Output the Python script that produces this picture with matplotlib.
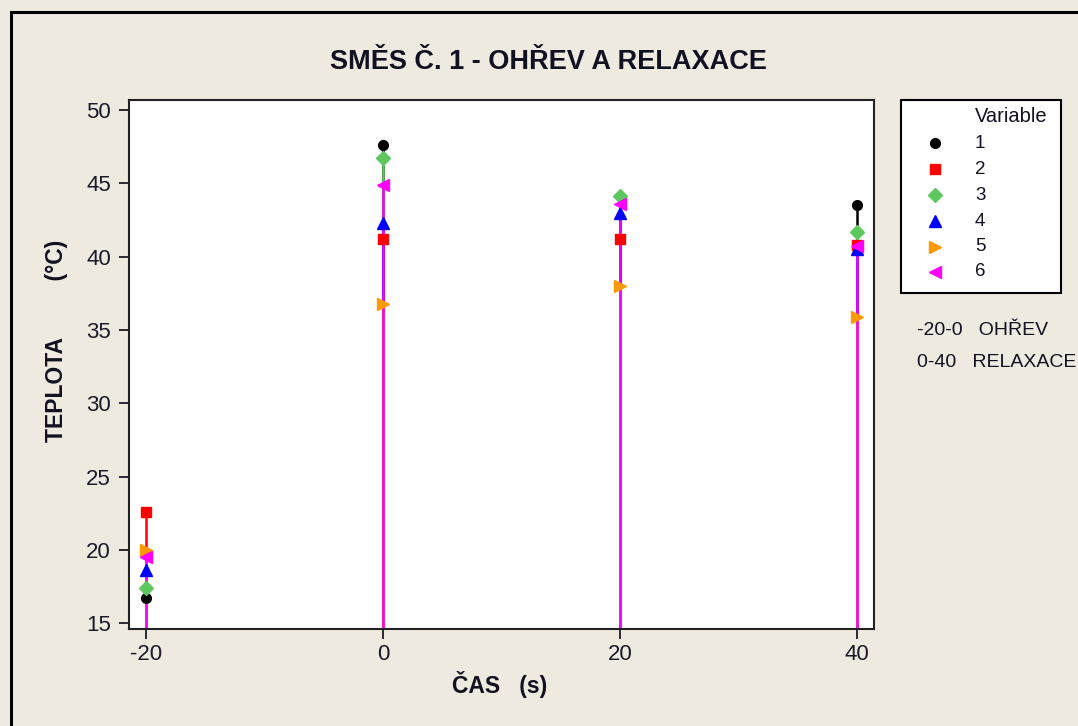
import matplotlib
matplotlib.use("Agg")
import matplotlib.pyplot as plt
from matplotlib.lines import Line2D
from matplotlib.patches import Rectangle

plt.rcParams['font.family'] = ['Liberation Sans', 'DejaVu Sans']
plt.rcParams['axes.unicode_minus'] = False

## data
cas = [-20, 0, 20, 40]
names = ['1', '2', '3', '4', '5', '6']
s1 = [16.7, 47.6, None, 43.5]
s2 = [22.6, 41.2, 41.2, 40.8]
s3 = [17.4, 46.7, 44.1, 41.7]
s4 = [18.6, 42.3, 43.0, 40.5]
s5 = [20.0, 36.8, 38.0, 35.9]
s6 = [19.5, 44.9, 43.6, 40.7]
series = [s1, s2, s3, s4, s5, s6]

colors = ['black', '#ff0000', '#5ec85e', '#0000ff', '#ff9900', '#ff00ff']
markers = ['o', 's', 'D', '^', '>', '<']
msizes = [7, 7.5, 7.5, 9, 9, 9]
bg = '#eeeae0'
W, H = 1078, 726

fig = plt.figure(figsize=(10.78, 7.26), dpi=100, facecolor=bg)
ax = fig.add_axes([129/W, 1-629/H, (874-129)/W, (629-100)/H])
ymin = 14.6

for i, s in enumerate(series):
    xs = [x for x, v in zip(cas, s) if v is not None]
    vs = [v for v in s if v is not None]
    ax.vlines(xs, ymin, vs, color=colors[i], lw=1.8, zorder=2 + i * 0.1)
for i, s in enumerate(series):
    xs = [x for x, v in zip(cas, s) if v is not None]
    vs = [v for v in s if v is not None]
    ax.plot(xs, vs, ls='none', marker=markers[i], color=colors[i],
            ms=msizes[i], mec=colors[i], zorder=3 + i * 0.1)

ax.set_xlim(-21.43, 41.43)
ax.set_ylim(ymin, 50.68)
ax.set_xticks(cas)
ax.set_yticks([15, 20, 25, 30, 35, 40, 45, 50])
ax.tick_params(direction='out', length=7, width=1.3, labelsize=16, colors='#1a1a2a', pad=4)
ax.tick_params(axis='y', pad=6)
for sp in ax.spines.values():
    sp.set_linewidth(1.5)
    sp.set_color('#222222')

fig.text(548/W, 1-62/H, 'SMĚS Č. 1 - OHŘEV A RELAXACE', ha='center', va='center',
         fontsize=19.5, fontweight='bold', color='#111122')
fig.text(500/W, 1-685/H, 'ČAS   (s)', ha='center', va='center', fontsize=16.5,
         fontweight='bold', color='#111122')
fig.text(56/W, 1-341/H, 'TEPLOTA         (°C)', ha='center', va='center', fontsize=16.5,
         fontweight='bold', rotation=90, color='#111122')

# legend box drawn by hand
fig.patches.append(Rectangle((901/W, 1-293/H), 160/W, 193/H, transform=fig.transFigure,
                             facecolor='white', edgecolor='black', lw=1.5))
fig.text(975/W, 1-116/H, 'Variable', ha='left', va='center', fontsize=14.5, color='#111122')
leg_y = [143, 169, 195, 221, 247, 272]
for i in range(6):
    fig.add_artist(Line2D([935/W], [1-leg_y[i]/H], ls='none', marker=markers[i],
                          color=colors[i], ms=msizes[i], transform=fig.transFigure))
    fig.text(975/W, 1-leg_y[i]/H, names[i], ha='left', va='center', fontsize=13.5,
             color='#111122')

fig.text(917/W, 1-330/H, '-20-0   OHŘEV', ha='left', va='center', fontsize=14, color='#111122')
fig.text(917/W, 1-362/H, '0-40   RELAXACE', ha='left', va='center', fontsize=14, color='#111122')

# outer frame
fig.patches.append(Rectangle((11/W, -0.1), 1.2, 1 - 12/H + 0.1, transform=fig.transFigure,
                             fill=False, edgecolor='black', lw=2.2))

fig.savefig('out.png', dpi=100, facecolor=bg)
